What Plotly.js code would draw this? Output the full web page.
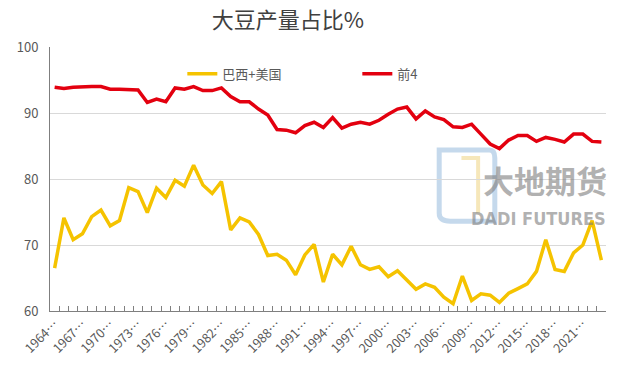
<!DOCTYPE html>
<html>
<head>
<meta charset="utf-8">
<script src="https://cdn.plot.ly/plotly-3.0.1.min.js"></script>
<style>html,body{margin:0;padding:0;background:#fff;}#chart{width:640px;height:378px;}</style>
</head>
<body>
<div id="chart"></div>
<script>
// Years 1964 .. 2023 (crop years)
const years = [1964,1965,1966,1967,1968,1969,1970,1971,1972,1973,1974,1975,1976,1977,1978,1979,1980,1981,1982,1983,1984,1985,1986,1987,1988,1989,1990,1991,1992,1993,1994,1995,1996,1997,1998,1999,2000,2001,2002,2003,2004,2005,2006,2007,2008,2009,2010,2011,2012,2013,2014,2015,2016,2017,2018,2019,2020,2021,2022,2023];

const brazilUS = [66.5,74.1,70.8,71.7,74.3,75.3,72.9,73.7,78.7,78.1,74.9,78.6,77.2,79.8,78.9,82.1,79.1,77.8,79.6,72.3,74.1,73.5,71.6,68.4,68.6,67.7,65.5,68.5,70.1,64.4,68.6,67.0,69.8,67.0,66.3,66.7,65.2,66.1,64.7,63.3,64.1,63.6,62.1,61.1,65.3,61.6,62.6,62.4,61.3,62.7,63.4,64.1,66.0,70.8,66.3,66.0,68.8,70.0,73.7,67.7];

const top4 = [93.9,93.7,93.9,94.0,94.0,94.0,93.6,93.6,93.5,93.5,91.6,92.1,91.7,93.8,93.6,94.0,93.4,93.4,93.8,92.5,91.7,91.7,90.6,89.7,87.5,87.4,87.0,88.1,88.6,87.8,89.3,87.7,88.3,88.6,88.3,88.9,89.8,90.6,90.9,89.1,90.3,89.4,89.0,87.9,87.8,88.3,86.8,85.3,84.6,85.9,86.6,86.6,85.7,86.3,86.0,85.6,86.8,86.8,85.7,85.6];

const seriesNames = ['巴西+美国', '前4'];
const tickYears = [1964,1967,1970,1973,1976,1979,1982,1985,1988,1991,1994,1997,2000,2003,2006,2009,2012,2015,2018,2021];
const tickLabels = tickYears.map(y => y + '…');
const yTicks = [60,70,80,90,100];

const idx = years.map((_, i) => i);
const tickIdx = tickYears.map(y => years.indexOf(y));

const traces = [
  {x: idx, y: brazilUS, name: seriesNames[0], type: 'scatter', mode: 'lines',
   line: {color: '#F5C300', width: 3.5}},
  {x: idx, y: top4, name: seriesNames[1], type: 'scatter', mode: 'lines',
   line: {color: '#E3000F', width: 3.5}},
  // helper trace so the category-boundary tick axis is drawn
  {x: [idx[0]], y: [null], xaxis: 'x2', yaxis: 'y', type: 'scatter', mode: 'lines',
   showlegend: false, hoverinfo: 'skip'}
];

const wmColor = 'rgba(125,125,125,0.6)';
const layout = {
  width: 640, height: 378,
  margin: {l: 50, r: 34, t: 47, b: 67},
  paper_bgcolor: '#ffffff', plot_bgcolor: '#ffffff',
  font: {family: '"Noto Sans CJK SC", "Noto Sans", sans-serif', color: '#595959'},
  title: {text: '大豆产量占比%', x: 0.45, xanchor: 'center', y: 0.945, yanchor: 'middle',
          font: {size: 22, color: '#404040', family: '"Noto Sans CJK SC", sans-serif'}},
  showlegend: true,
  legend: {orientation: 'h', x: 0.238, y: 0.955, xanchor: 'left', yanchor: 'top',
           bgcolor: 'rgba(0,0,0,0)', font: {size: 13, color: '#595959'},
           tracegroupgap: 0, entrywidth: 130},
  xaxis: {
    range: [-0.5, years.length - 0.5],
    tickmode: 'array', tickvals: tickIdx, ticktext: tickLabels,
    tickangle: -45, ticks: '', showgrid: false, zeroline: false,
    showline: true, linecolor: '#7f7f7f', linewidth: 1,
    tickfont: {size: 12.5, color: '#595959'}
  },
  xaxis2: {
    overlaying: 'x', anchor: 'y', side: 'bottom',
    range: [-0.5, years.length - 0.5],
    tickmode: 'linear', tick0: -0.5, dtick: 1,
    ticks: 'inside', ticklen: 5, tickcolor: '#808080', tickwidth: 1,
    showticklabels: false, showgrid: false, zeroline: false, showline: false
  },
  yaxis: {
    range: [60, 100], tickmode: 'array', tickvals: yTicks,
    showgrid: true, gridcolor: '#d9d9d9', gridwidth: 1, zeroline: false,
    showline: true, linecolor: '#7f7f7f', linewidth: 1,
    ticks: '', ticklabelstandoff: 8, tickfont: {size: 13, color: '#595959'}
  },
  shapes: [
    {type: 'path', xref: 'paper', yref: 'paper', layer: 'below',
     path: 'M 0.70 0.61 L 0.79 0.61 Q 0.80 0.61 0.80 0.58 L 0.80 0.34 L 0.72 0.34 Q 0.70 0.34 0.70 0.37 Z',
     line: {color: 'rgba(150,185,220,0.55)', width: 5}, fillcolor: 'rgba(0,0,0,0)'},
    {type: 'path', xref: 'paper', yref: 'paper', layer: 'below',
     path: 'M 0.74 0.58 L 0.77 0.58 L 0.77 0.37',
     line: {color: 'rgba(240,215,140,0.6)', width: 4}, fillcolor: 'rgba(0,0,0,0)'}
  ],
  annotations: [
    {text: '<b>大地期货</b>', xref: 'paper', yref: 'paper', x: 1.005, y: 0.50, xanchor: 'right', yanchor: 'middle',
     showarrow: false, font: {size: 31, color: wmColor, family: '"Noto Sans CJK SC", sans-serif'}},
    {text: '<b>DADI FUTURES</b>', xref: 'paper', yref: 'paper', x: 1.003, y: 0.35, xanchor: 'right', yanchor: 'middle',
     showarrow: false, font: {size: 18, color: wmColor, family: '"Liberation Sans Narrow", "DejaVu Sans Condensed", sans-serif'}}
  ]
};

Plotly.newPlot('chart', traces, layout, {displayModeBar: false, staticPlot: true});
</script>
</body>
</html>
